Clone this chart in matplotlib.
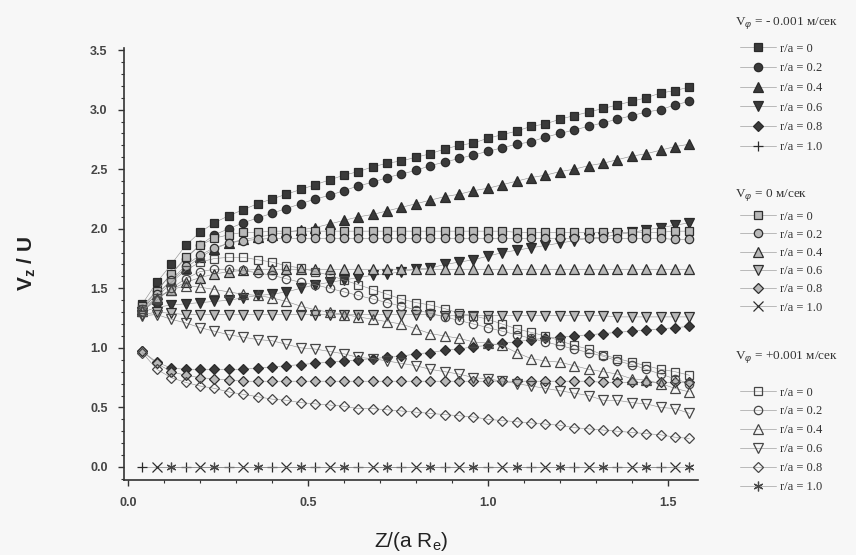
import matplotlib.pyplot as plt
from matplotlib.ticker import MultipleLocator

plt.rcParams['font.family'] = ['Liberation Sans', 'DejaVu Sans']
plt.rcParams['mathtext.fontset'] = 'custom'
plt.rcParams['mathtext.rm'] = 'Liberation Sans'
plt.rcParams['mathtext.bf'] = 'Liberation Sans:bold'
plt.rcParams['mathtext.it'] = 'Liberation Sans:italic'

# axial position Z/(a Re)
z = [0.04, 0.08, 0.12, 0.16, 0.20, 0.24, 0.28, 0.32, 0.36, 0.40, 0.44, 0.48, 0.52,
     0.56, 0.60, 0.64, 0.68, 0.72, 0.76, 0.80, 0.84, 0.88, 0.92, 0.96, 1.00, 1.04,
     1.08, 1.12, 1.16, 1.20, 1.24, 1.28, 1.32, 1.36, 1.40, 1.44, 1.48, 1.52, 1.56]

# V_phi = -0.001 m/s
m_r00 = [1.37, 1.55, 1.70, 1.86, 1.97, 2.05, 2.11, 2.16, 2.21, 2.25, 2.29, 2.33, 2.37,
         2.41, 2.45, 2.48, 2.52, 2.55, 2.57, 2.60, 2.63, 2.67, 2.70, 2.72, 2.76, 2.79,
         2.82, 2.86, 2.88, 2.92, 2.95, 2.98, 3.01, 3.04, 3.07, 3.10, 3.14, 3.16, 3.19]
m_r02 = [1.33, 1.48, 1.62, 1.75, 1.86, 1.95, 2.00, 2.05, 2.09, 2.13, 2.17, 2.21, 2.25,
         2.28, 2.32, 2.36, 2.39, 2.43, 2.46, 2.49, 2.53, 2.56, 2.59, 2.62, 2.65, 2.68,
         2.71, 2.73, 2.77, 2.80, 2.83, 2.86, 2.89, 2.92, 2.95, 2.98, 3.00, 3.04, 3.07]
m_r04 = [1.33, 1.45, 1.56, 1.67, 1.76, 1.83, 1.88, 1.91, 1.93, 1.95, 1.97, 1.99, 2.01,
         2.04, 2.07, 2.10, 2.12, 2.15, 2.18, 2.21, 2.24, 2.27, 2.29, 2.32, 2.34, 2.37,
         2.40, 2.43, 2.45, 2.48, 2.50, 2.53, 2.55, 2.58, 2.61, 2.63, 2.66, 2.69, 2.71]
m_r06 = [1.30, 1.34, 1.36, 1.37, 1.38, 1.39, 1.40, 1.42, 1.44, 1.45, 1.47, 1.50, 1.53,
         1.55, 1.57, 1.59, 1.61, 1.62, 1.64, 1.66, 1.67, 1.70, 1.72, 1.74, 1.77, 1.80,
         1.82, 1.84, 1.86, 1.88, 1.90, 1.92, 1.93, 1.95, 1.97, 1.99, 2.01, 2.03, 2.05]
m_r08 = [0.97, 0.88, 0.83, 0.82, 0.82, 0.82, 0.82, 0.82, 0.83, 0.84, 0.85, 0.86, 0.87,
         0.88, 0.89, 0.90, 0.91, 0.92, 0.93, 0.95, 0.96, 0.98, 0.99, 1.01, 1.02, 1.04,
         1.05, 1.07, 1.08, 1.09, 1.10, 1.11, 1.12, 1.13, 1.14, 1.15, 1.16, 1.17, 1.18]
m_r10 = [0.0, 0.0, 0.0, 0.0, 0.0, 0.0, 0.0, 0.0, 0.0, 0.0, 0.0, 0.0, 0.0]

# V_phi = 0
o_r00 = [1.35, 1.48, 1.62, 1.76, 1.86, 1.92, 1.95, 1.97, 1.97, 1.98, 1.98, 1.98, 1.98,
         1.98, 1.98, 1.98, 1.98, 1.98, 1.98, 1.98, 1.98, 1.98, 1.98, 1.98, 1.98, 1.98,
         1.97, 1.97, 1.97, 1.97, 1.97, 1.97, 1.97, 1.97, 1.97, 1.97, 1.97, 1.98, 1.98]
o_r02 = [1.33, 1.45, 1.57, 1.69, 1.78, 1.84, 1.88, 1.90, 1.91, 1.92, 1.92, 1.92, 1.92,
         1.92, 1.92, 1.92, 1.92, 1.92, 1.92, 1.92, 1.92, 1.92, 1.92, 1.92, 1.92, 1.92,
         1.92, 1.92, 1.92, 1.92, 1.92, 1.92, 1.92, 1.92, 1.92, 1.92, 1.92, 1.91, 1.91]
o_r04 = [1.31, 1.41, 1.49, 1.55, 1.59, 1.62, 1.64, 1.65, 1.66, 1.66, 1.66, 1.66, 1.66,
         1.66, 1.66, 1.66, 1.66, 1.66, 1.66, 1.66, 1.66, 1.66, 1.66, 1.66, 1.66, 1.66,
         1.66, 1.66, 1.66, 1.66, 1.66, 1.66, 1.66, 1.66, 1.66, 1.66, 1.66, 1.66, 1.66]
o_r06 = [1.28, 1.30, 1.29, 1.28, 1.28, 1.28, 1.28, 1.28, 1.28, 1.28, 1.28, 1.28, 1.28,
         1.28, 1.28, 1.28, 1.28, 1.28, 1.28, 1.28, 1.28, 1.27, 1.27, 1.27, 1.27, 1.27,
         1.27, 1.27, 1.27, 1.27, 1.27, 1.27, 1.27, 1.26, 1.26, 1.26, 1.26, 1.26, 1.26]
o_r08 = [0.97, 0.87, 0.80, 0.77, 0.75, 0.74, 0.73, 0.72, 0.72, 0.72, 0.72, 0.72, 0.72,
         0.72, 0.72, 0.72, 0.72, 0.72, 0.72, 0.72, 0.72, 0.72, 0.72, 0.72, 0.72, 0.72,
         0.72, 0.72, 0.72, 0.72, 0.72, 0.72, 0.71, 0.71, 0.71, 0.71, 0.71, 0.71, 0.71]
o_r10 = [0.0, 0.0, 0.0, 0.0, 0.0, 0.0, 0.0, 0.0, 0.0, 0.0, 0.0, 0.0, 0.0]

# V_phi = +0.001 m/s
p_r00 = [1.33, 1.42, 1.55, 1.65, 1.72, 1.75, 1.76, 1.76, 1.74, 1.72, 1.69, 1.67, 1.64,
         1.61, 1.57, 1.53, 1.49, 1.45, 1.41, 1.38, 1.36, 1.33, 1.29, 1.27, 1.24, 1.20,
         1.16, 1.13, 1.10, 1.06, 1.02, 0.99, 0.94, 0.91, 0.88, 0.85, 0.82, 0.80, 0.77]
p_r02 = [1.31, 1.40, 1.50, 1.58, 1.64, 1.66, 1.66, 1.65, 1.63, 1.61, 1.58, 1.55, 1.53,
         1.50, 1.47, 1.44, 1.41, 1.38, 1.35, 1.32, 1.29, 1.26, 1.23, 1.20, 1.17, 1.14,
         1.11, 1.08, 1.05, 1.02, 0.99, 0.96, 0.93, 0.89, 0.86, 0.82, 0.78, 0.74, 0.70]
p_r04 = [1.31, 1.42, 1.49, 1.52, 1.51, 1.49, 1.47, 1.45, 1.44, 1.42, 1.39, 1.35, 1.32,
         1.30, 1.28, 1.26, 1.24, 1.22, 1.20, 1.16, 1.12, 1.10, 1.08, 1.05, 1.04, 1.02,
         0.96, 0.91, 0.89, 0.88, 0.85, 0.82, 0.80, 0.78, 0.74, 0.73, 0.70, 0.66, 0.63]
p_r06 = [1.27, 1.28, 1.24, 1.21, 1.17, 1.14, 1.11, 1.09, 1.07, 1.06, 1.03, 1.00, 0.99,
         0.97, 0.95, 0.92, 0.91, 0.89, 0.87, 0.85, 0.82, 0.80, 0.78, 0.75, 0.74, 0.72,
         0.70, 0.68, 0.66, 0.64, 0.62, 0.60, 0.56, 0.56, 0.54, 0.53, 0.50, 0.49, 0.45]
p_r08 = [0.96, 0.82, 0.75, 0.71, 0.68, 0.66, 0.63, 0.61, 0.59, 0.57, 0.56, 0.54, 0.53,
         0.52, 0.51, 0.49, 0.49, 0.48, 0.47, 0.46, 0.45, 0.44, 0.43, 0.42, 0.40, 0.39,
         0.38, 0.37, 0.36, 0.35, 0.33, 0.32, 0.31, 0.30, 0.29, 0.28, 0.27, 0.25, 0.24]
p_r10 = [0.0, 0.0, 0.0, 0.0, 0.0, 0.0, 0.0, 0.0, 0.0, 0.0, 0.0, 0.0, 0.0]

labels = ["r/a = 0", "r/a = 0.2", "r/a = 0.4", "r/a = 0.6", "r/a = 0.8", "r/a = 1.0"]
titles = ["V$_\\varphi$ = - 0.001 м/сек", "V$_\\varphi$ = 0 м/сек", "V$_\\varphi$ = +0.001 м/сек"]
markers = ['s', 'o', '^', 'v', 'D', None]
sizes = [6, 6, 6.5, 6.5, 5, 7]

fig = plt.figure(figsize=(8.56, 5.55), dpi=100, facecolor='#f7f7f7')
ax = fig.add_axes([0.1453, 0.135, 0.6706, 0.779])
ax.set_facecolor('#f7f7f7')

groups = [
    ([m_r00, m_r02, m_r04, m_r06, m_r08, m_r10], '+', 0, dict(mfc='#3a3a3a', mec='#2a2a2a')),
    ([o_r00, o_r02, o_r04, o_r06, o_r08, o_r10], 'x', 1, dict(mfc='#b8b8b8', mec='#2e2e2e')),
    ([p_r00, p_r02, p_r04, p_r06, p_r08, p_r10], (6, 2, 0), 2, dict(mfc='none', mec='#474747')),
]

handles = []
for series, last_marker, offset, style in groups:
    hs = []
    for i, ys in enumerate(series):
        if i == 5:
            # the r/a = 1.0 points of the three cases sit side by side at zero
            xs = z[offset::3]
            mk = last_marker
        else:
            xs = z
            mk = markers[i]
        h, = ax.plot(xs, ys, color='#8a8a8a', lw=0.4, marker=mk, ms=sizes[i],
                     mew=0.9, label=labels[i], **style)
        hs.append(h)
    handles.append(hs)

ax.set_xlim(-0.01, 1.585)
ax.set_ylim(-0.11, 3.52)
ax.xaxis.set_major_locator(MultipleLocator(0.5))
ax.xaxis.set_minor_locator(MultipleLocator(0.1))
ax.yaxis.set_major_locator(MultipleLocator(0.5))
ax.yaxis.set_minor_locator(MultipleLocator(0.1))
ax.xaxis.set_major_formatter(lambda v, p: f"{v:.1f}")
ax.yaxis.set_major_formatter(lambda v, p: f"{v:.1f}")
for s in ['top', 'right']:
    ax.spines[s].set_visible(False)
for s in ['left', 'bottom']:
    ax.spines[s].set_color('#333333')
    ax.spines[s].set_linewidth(1.2)
ax.tick_params(which='major', direction='out', length=4, width=1, color='#333333',
               labelsize=9, labelcolor='#444444', pad=8)
ax.tick_params(which='minor', direction='out', length=2.5, width=0.8, color='#333333')
for t in ax.get_xticklabels() + ax.get_yticklabels():
    t.set_fontweight('bold')

ax.set_xlabel("Z/(a R$_\\mathrm{e}$)", fontsize=15, color='#222222')
ax.xaxis.set_label_coords(0.5, -0.115)
ax.set_ylabel("V$_\\mathbf{z}$ / U", fontsize=15, fontweight='bold', color='#222222')
ax.yaxis.set_label_coords(-0.15, 0.5)

# legend blocks: header text, then the six entries
serif = ['Liberation Serif', 'DejaVu Serif']
title_y = [23, 195, 357]
entry_top = [42.5, 210.5, 386.5]
spacing = [0.62, 0.50, 0.55]
for hs, title, ty, top, ls in zip(handles, titles, title_y, entry_top, spacing):
    fig.text(735 / 856, 1 - ty / 555, title, ha='left', va='center', fontsize=9.5,
             family=serif, color='#333333')
    leg = fig.legend(handles=hs, loc='upper left', bbox_to_anchor=(740 / 856, 1 - top / 555),
                     frameon=False, handlelength=2.9, handletextpad=0.3, labelspacing=ls,
                     borderpad=0, borderaxespad=0, prop={'family': serif, 'size': 9})
    for txt in leg.get_texts():
        txt.set_color('#333333')

fig.savefig("out.png", dpi=100, facecolor=fig.get_facecolor())
